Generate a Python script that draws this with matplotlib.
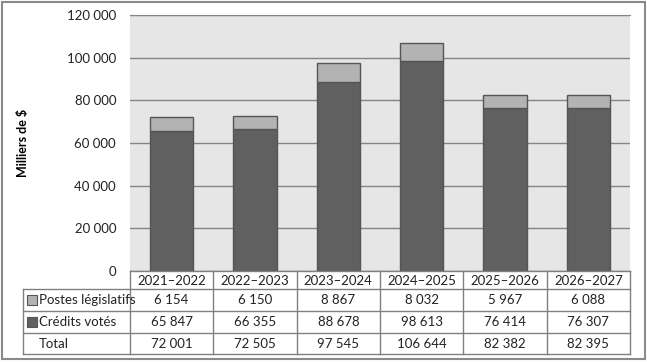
import matplotlib
matplotlib.use("Agg")
import matplotlib.pyplot as plt
from matplotlib.patches import Rectangle
from matplotlib.lines import Line2D
import numpy as np

years = ["2021\u20132022", "2022\u20132023", "2023\u20132024", "2024\u20132025", "2025\u20132026", "2026\u20132027"]
postes = [6154, 6150, 8867, 8032, 5967, 6088]
credits = [65847, 66355, 88678, 98613, 76414, 76307]
totals = [72001, 72505, 97545, 106644, 82382, 82395]
series_names = ["Postes l\u00e9gislatifs", "Cr\u00e9dits vot\u00e9s", "Total"]
yticks = [0, 20000, 40000, 60000, 80000, 100000, 120000]

plt.rcParams['font.family'] = ['Lato', 'DejaVu Sans']

W, H = 647, 363
fig = plt.figure(figsize=(W / 100, H / 100), dpi=100)

def fmt(v):
    return f"{v:,}".replace(",", " ")

dark = "#606060"
light = "#b3b3b3"
edge = "#555555"

# plot area in pixels
L, R, T, B = 130, 630, 15, 271
ax = fig.add_axes([L / W, 1 - B / H, (R - L) / W, (B - T) / H])
ax.set_facecolor("#e6e6e6")
x = np.arange(len(years))
ax.bar(x, credits, width=0.52, color=dark, edgecolor=edge, linewidth=1, zorder=3)
ax.bar(x, postes, width=0.52, bottom=credits, color=light, edgecolor=edge, linewidth=1, zorder=3)
ax.set_xlim(-0.5, len(years) - 0.5)
ax.set_ylim(0, 120000)
ax.set_yticks(yticks)
ax.set_yticklabels([fmt(v) for v in yticks], fontsize=9.5, color="#222222")
ax.tick_params(axis='y', length=0, pad=10)
ax.set_xticks([])
ax.yaxis.grid(True, color="#858585", linewidth=1)
ax.set_axisbelow(True)
for s in ["left", "right", "bottom"]:
    ax.spines[s].set_visible(False)
ax.spines["top"].set_color("#858585")
ax.set_ylabel("Milliers de $", fontsize=9, fontweight="bold", labelpad=27)

# overlay for table
ov = fig.add_axes([0, 0, 1, 1])
ov.set_xlim(0, W)
ov.set_ylim(H, 0)
ov.axis("off")
ov.patch.set_alpha(0)

lc = "#808080"
ncol = len(years)
cw = (R - L) / ncol
rows_y = [271, 289, 311, 333, 354]
left_x = 23
ov.add_line(Line2D([L, R], [rows_y[0], rows_y[0]], color=lc, lw=1))
for yy in rows_y[1:]:
    ov.add_line(Line2D([left_x, R], [yy, yy], color=lc, lw=1))
for i in range(ncol + 1):
    xx = L + i * cw
    ov.add_line(Line2D([xx, xx], [rows_y[0], rows_y[-1]], color=lc, lw=1))
ov.add_line(Line2D([left_x, left_x], [rows_y[1], rows_y[-1]], color=lc, lw=1))

fs = 9.5
tc = "#222222"
for i, yr in enumerate(years):
    cx = L + (i + 0.5) * cw
    ov.text(cx, (rows_y[0] + rows_y[1]) / 2 + 1, yr, ha="center", va="center", fontsize=fs, color=tc)
    for r, vals in enumerate([postes, credits, totals]):
        ov.text(cx, (rows_y[r + 1] + rows_y[r + 2]) / 2, fmt(vals[i]), ha="center", va="center", fontsize=fs, color=tc)

swatches = [light, dark, None]
for r, name in enumerate(series_names):
    cy = (rows_y[r + 1] + rows_y[r + 2]) / 2
    if swatches[r] is not None:
        ov.add_patch(Rectangle((27, cy - 5), 10, 10, facecolor=swatches[r], edgecolor=edge, lw=0.8))
    ov.text(39, cy, name, ha="left", va="center", fontsize=fs, color=tc)

ov.add_patch(Rectangle((1.5, 1.5), 643.5, 357, fill=False, edgecolor="#8a8a8a", lw=1.5))

fig.savefig("out.png", dpi=100)
